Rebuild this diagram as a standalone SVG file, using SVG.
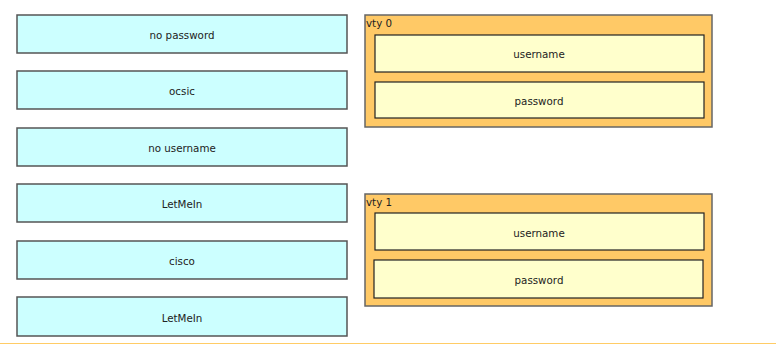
<svg xmlns="http://www.w3.org/2000/svg" width="776" height="351" viewBox="0 0 776 351">
<style>
.opt{fill:#CCFFFF;stroke:#555;stroke-width:1.5}
.vty{fill:#FFC966;stroke:#666;stroke-width:1.5}
.slot{fill:#FFFFCC;stroke:#222;stroke-width:1.2}
text{font-family:"DejaVu Sans",Verdana,sans-serif;font-size:10.3px;fill:#222}
.c{text-anchor:middle}
</style>
<rect width="776" height="351" fill="#fff"/>
<line x1="0" y1="343.5" x2="776" y2="343.5" stroke="#FFCC66" stroke-width="1"/>
<g id="opt1"><rect class="opt" x="17" y="15" width="330" height="38"/><text class="c" x="182" y="39">no password</text></g>
<g id="opt2"><rect class="opt" x="17" y="71" width="330" height="38"/><text class="c" x="182" y="95">ocsic</text></g>
<g id="opt3"><rect class="opt" x="17" y="128" width="330" height="38"/><text class="c" x="182" y="152">no username</text></g>
<g id="opt4"><rect class="opt" x="17" y="184" width="330" height="38"/><text class="c" x="182" y="208">LetMeIn</text></g>
<g id="opt5"><rect class="opt" x="17" y="241" width="330" height="38"/><text class="c" x="182" y="265">cisco</text></g>
<g id="opt6"><rect class="opt" x="17" y="297" width="330" height="39"/><text class="c" x="182" y="322">LetMeIn</text></g>
<g id="vty0">
<rect class="vty" x="365" y="15" width="347" height="112"/>
<text x="366" y="27">vty 0</text>
<g id="vty0-username"><rect class="slot" x="375" y="35" width="329" height="37"/><text class="c" x="539" y="58">username</text></g>
<g id="vty0-password"><rect class="slot" x="375" y="82" width="329" height="36"/><text class="c" x="539" y="105">password</text></g>
</g>
<g id="vty1">
<rect class="vty" x="365" y="194" width="347" height="112"/>
<text x="366" y="206">vty 1</text>
<g id="vty1-username"><rect class="slot" x="375" y="213" width="329" height="37"/><text class="c" x="539" y="237">username</text></g>
<g id="vty1-password"><rect class="slot" x="374" y="260" width="329" height="38"/><text class="c" x="539" y="284">password</text></g>
</g>
<g id="connectors"></g>
</svg>
